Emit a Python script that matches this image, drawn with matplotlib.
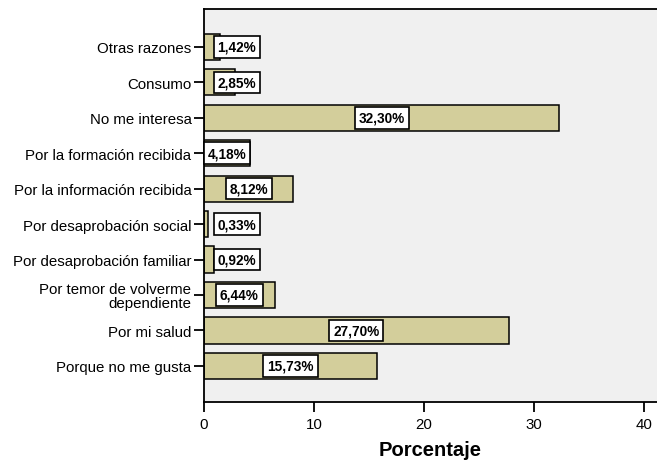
import numpy as np
from matplotlib import pyplot as plt

plt.rcParams['font.family'] = ['Liberation Sans', 'DejaVu Sans']

# categorias de abajo hacia arriba
categorias = ['Porque no me gusta', 'Por mi salud',
              'Por temor de volverme\ndependiente',
              'Por desaprobación familiar', 'Por desaprobación social',
              'Por la información recibida', 'Por la formación recibida',
              'No me interesa', 'Consumo', 'Otras razones']
porcentajes = [15.73, 27.70, 6.44, 0.92, 0.33, 8.12, 4.18, 32.30, 2.85, 1.42]
ticks_x = [0, 10, 20, 30, 40]

fig = plt.figure(figsize=(6.57, 4.64), dpi=100)
ax = fig.add_axes([0.3105, 0.1315, 0.6895, 0.847])
ax.set_facecolor('#f0f0f0')

pos = np.arange(len(categorias))
ax.barh(pos, porcentajes, height=0.74, color='#d3ce9b', edgecolor='black', linewidth=1.1)

#Etiquetas de valores
for p, v in zip(pos, porcentajes):
    xt = v / 2 if v > 4 else 3.0
    ax.text(xt, p, f"{v:.2f}%".replace('.', ','), ha='center', va='center',
            fontsize=9.8, fontweight='bold',
            bbox=dict(boxstyle='square,pad=0.28', facecolor='white', edgecolor='black', linewidth=1.2))

ax.set_xlim(0, 41.2)
ax.set_ylim(-1.02, 10.07)
ax.set_yticks(pos)
ax.set_yticklabels(categorias, fontsize=10.8, ha='right', linespacing=0.95)
ax.set_xticks(ticks_x)
ax.tick_params(axis='x', labelsize=10.8, length=7, width=1.3, pad=4)
ax.tick_params(axis='y', length=7, width=1.3, pad=2)
ax.set_xlabel('Porcentaje', fontsize=14.5, fontweight='bold', labelpad=6)

for s in ['left', 'bottom', 'top']:
    ax.spines[s].set_linewidth(1.3)
ax.spines['right'].set_visible(False)

plt.savefig('out.png', dpi=100)
